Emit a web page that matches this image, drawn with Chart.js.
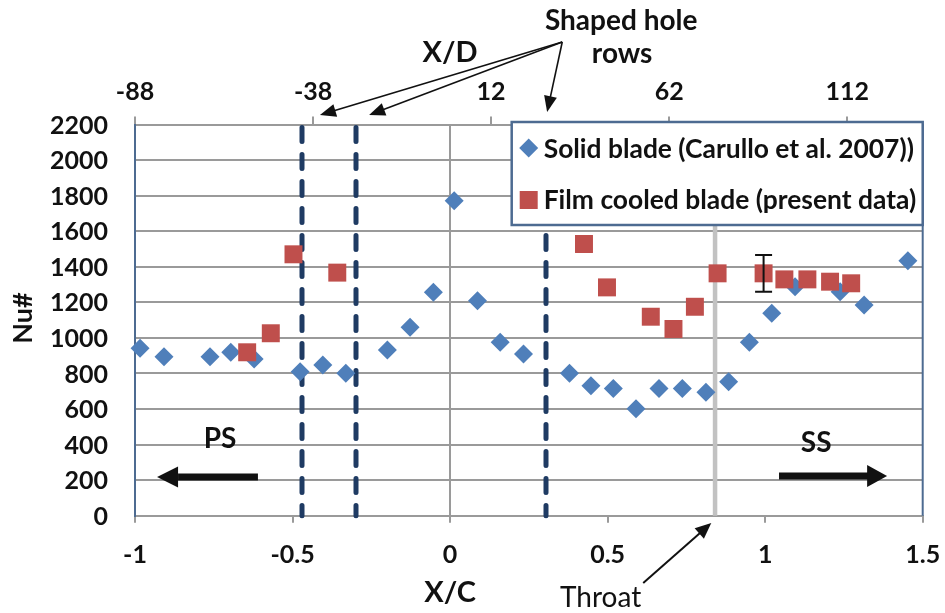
<!DOCTYPE html>
<html>
<head>
<meta charset="utf-8">
<script src="https://cdn.jsdelivr.net/npm/chart.js@4.4.1/dist/chart.umd.min.js"></script>
<style>
  html, body { margin: 0; padding: 0; background: #ffffff; }
  #wrap { width: 945px; height: 613px; position: relative; }
</style>
</head>
<body>
<div id="wrap"><canvas id="nuChart" width="945" height="613"></canvas></div>
<script>
// ---- data: surface position X/C and Nusselt number ----
const solidXC = [-0.984, -0.908, -0.762, -0.696, -0.622, -0.476, -0.404, -0.331, -0.199, -0.127,
                 -0.053, 0.013, 0.087, 0.159, 0.233, 0.379, 0.447, 0.518, 0.590, 0.663,
                 0.737, 0.812, 0.884, 0.950, 1.021, 1.095, 1.238, 1.314, 1.453];
const solidNu = [941, 894, 894, 919, 881, 810, 847, 801, 932, 1060,
                 1256, 1771, 1209, 975, 909, 801, 731, 716, 602, 716,
                 716, 694, 754, 975, 1138, 1288, 1260, 1185, 1434];

const filmXC  = [-0.644, -0.569, -0.497, -0.358, 0.425, 0.498, 0.637, 0.709, 0.777, 0.849,
                 0.995, 1.061, 1.134, 1.206, 1.273];
const filmNu  = [919, 1026, 1470, 1367, 1528, 1284, 1119, 1050, 1175, 1363,
                 1363, 1329, 1329, 1316, 1307];
// uncertainty (+/-) shown on one representative point
const filmErr = [null, null, null, null, null, null, null, null, null, null,
                 103, null, null, null, null];

const seriesNames = ['Solid blade (Carullo et al. 2007))', 'Film cooled blade (present data)'];

// shaped hole row locations and throat location, in X/C
const holeRowXC = [-0.471, -0.298, 0.305];
const throatXC = 0.841;

// axis ranges and tick values
const xcRange = [-1, 1.5];
const nuRange = [0, 2200];
const xdTicks = [-88, -38, 12, 62, 112];
const xdRange = [-88, 133.2];

// ---- styling ----
const FONT = 'Lato';
const INK = '#111111';
const GRID = '#9a9a9a';
const FRAME = '#4d6b91';
const BLUE = '#4f7fba';
const RED = '#bf4f4c';

function arrowHead(ctx, x0, y0, x1, y1, len, half) {
  const a = Math.atan2(y1 - y0, x1 - x0);
  const bx = x1 - len * Math.cos(a), by = y1 - len * Math.sin(a);
  ctx.beginPath();
  ctx.moveTo(x1, y1);
  ctx.lineTo(bx + half * Math.sin(a), by - half * Math.cos(a));
  ctx.lineTo(bx - half * Math.sin(a), by + half * Math.cos(a));
  ctx.closePath();
  ctx.fill();
}

function lineArrow(ctx, x0, y0, x1, y1, width, len, half) {
  const a = Math.atan2(y1 - y0, x1 - x0);
  ctx.lineWidth = width;
  ctx.beginPath();
  ctx.moveTo(x0, y0);
  ctx.lineTo(x1 - len * 0.7 * Math.cos(a), y1 - len * 0.7 * Math.sin(a));
  ctx.stroke();
  arrowHead(ctx, x0, y0, x1, y1, len, half);
}

function blockArrow(ctx, xTail, xTip, y, shaft, headLen, headHalf) {
  const dir = Math.sign(xTip - xTail);
  const xBack = xTip - dir * headLen;
  ctx.fillRect(Math.min(xTail, xBack), y - shaft / 2, Math.abs(xBack - xTail) + 1, shaft);
  ctx.beginPath();
  ctx.moveTo(xTip, y);
  ctx.lineTo(xBack, y - headHalf);
  ctx.lineTo(xBack, y + headHalf);
  ctx.closePath();
  ctx.fill();
}

// annotation anchors, in axis units (X/C, Nu#)
const notes = {
  holeArrowFrom: [0.356, 2664],
  holeArrowTips: [[-0.413, 2253], [-0.257, 2253], [0.308, 2270]],
  throatFrom: [0.613, -378], throatTip: [0.829, -41],
  psTail: [-0.613, 217], psTip: [-0.930, 217],
  ssTail: [1.044, 222], ssTip: [1.387, 222],
  shapedLine1: [0.543, 2731], shapedLine2: [0.546, 2544],
  xdTitle: [0.0, 2553], xcTitle: [0.0, -485],
  throatText: [0.349, -513],
  psText: [-0.730, 381], ssText: [1.162, 361]
};

const overlay = {
  id: 'overlay',
  beforeDatasetsDraw(chart) {
    const { ctx, chartArea: { top, bottom }, scales: { x } } = chart;
    ctx.save();
    // throat marker
    const tx = x.getPixelForValue(throatXC);
    ctx.strokeStyle = '#c2c2c2';
    ctx.lineWidth = 4.5;
    ctx.beginPath(); ctx.moveTo(tx, top); ctx.lineTo(tx, bottom); ctx.stroke();
    // shaped hole rows
    ctx.strokeStyle = '#1f3b63';
    ctx.lineWidth = 5;
    ctx.lineCap = 'round';
    ctx.setLineDash([14, 13]);
    holeRowXC.forEach(v => {
      const px = Math.round(x.getPixelForValue(v));
      ctx.beginPath(); ctx.moveTo(px, top + 3); ctx.lineTo(px, bottom); ctx.stroke();
    });
    ctx.restore();
  },
  afterDatasetsDraw(chart) {
    const { ctx, chartArea: { top, bottom, right }, scales: { x, y } } = chart;
    ctx.save();

    // right frame edge
    ctx.strokeStyle = FRAME;
    ctx.lineWidth = 2;
    ctx.beginPath(); ctx.moveTo(right, top); ctx.lineTo(right, bottom); ctx.stroke();

    // error bar
    ctx.strokeStyle = INK;
    ctx.lineWidth = 2;
    filmErr.forEach((e, i) => {
      if (e == null) return;
      const cx = x.getPixelForValue(filmXC[i]);
      const y0 = y.getPixelForValue(filmNu[i] - e);
      const y1 = y.getPixelForValue(filmNu[i] + e);
      ctx.beginPath();
      ctx.moveTo(cx, y0); ctx.lineTo(cx, y1);
      ctx.moveTo(cx - 8.5, y0); ctx.lineTo(cx + 8.5, y0);
      ctx.moveTo(cx - 8.5, y1); ctx.lineTo(cx + 8.5, y1);
      ctx.stroke();
    });

    // legend box
    const lw = 411, lh = 103;
    const lx = right - lw, ly = top - 2.5;
    ctx.fillStyle = '#ffffff';
    ctx.fillRect(lx, ly, lw, lh);
    ctx.strokeStyle = FRAME;
    ctx.lineWidth = 2.5;
    ctx.strokeRect(lx, ly, lw, lh);
    // legend markers
    const mx = lx + 17;
    ctx.fillStyle = BLUE;
    ctx.beginPath();
    ctx.moveTo(mx - 9.5, ly + 26); ctx.lineTo(mx, ly + 16.5);
    ctx.lineTo(mx + 9.5, ly + 26); ctx.lineTo(mx, ly + 35.5);
    ctx.closePath(); ctx.fill();
    ctx.fillStyle = RED;
    ctx.fillRect(mx - 9, ly + 69, 18, 18);
    // legend labels
    ctx.fillStyle = INK;
    ctx.font = `bold 26.4px ${FONT}`;
    ctx.textAlign = 'left';
    ctx.textBaseline = 'alphabetic';
    ctx.fillText(seriesNames[0], lx + 32, ly + 35.5);
    ctx.fillText(seriesNames[1], lx + 32, ly + 87);
    ctx.restore();
  },
  afterDraw(chart) {
    const { ctx, chartArea: { top, bottom }, scales: { x, y } } = chart;
    const P = ([a, b]) => [x.getPixelForValue(a), y.getPixelForValue(b)];
    ctx.save();
    ctx.fillStyle = INK;
    ctx.strokeStyle = INK;

    // arrows to the shaped hole rows
    const [fx, fy] = P(notes.holeArrowFrom);
    notes.holeArrowTips.forEach(t => {
      const [tx, ty] = P(t);
      lineArrow(ctx, fx, fy, tx, ty, 1.6, 16, 6.5);
    });
    // throat arrow
    const [ax, ay] = P(notes.throatFrom);
    const [bx, by] = P(notes.throatTip);
    lineArrow(ctx, ax, ay, bx, by, 2, 16, 7);
    // pressure side / suction side arrows
    const [psA, psY] = P(notes.psTail), [psB] = P(notes.psTip);
    blockArrow(ctx, psA, psB, Math.round(psY), 7, 21, 10.5);
    const [ssA, ssY] = P(notes.ssTail), [ssB] = P(notes.ssTip);
    blockArrow(ctx, ssA, ssB, Math.round(ssY), 7, 20, 11);

    // texts
    ctx.textBaseline = 'alphabetic';
    ctx.textAlign = 'center';
    ctx.font = `bold 28px ${FONT}`;
    let p = P(notes.shapedLine1); ctx.fillText('Shaped hole', p[0], p[1]);
    p = P(notes.shapedLine2); ctx.fillText('rows', p[0], p[1]);
    ctx.font = `bold 29px ${FONT}`;
    p = P(notes.xdTitle); ctx.fillText('X/D', p[0], p[1]);
    p = P(notes.xcTitle); ctx.fillText('X/C', p[0], p[1]);
    ctx.font = `bold 28px ${FONT}`;
    p = P(notes.psText); ctx.fillText('PS', p[0], p[1]);
    p = P(notes.ssText); ctx.fillText('SS', p[0], p[1]);
    ctx.textAlign = 'left';
    ctx.font = `28px ${FONT}`;
    p = P(notes.throatText); ctx.fillText('Throat', p[0], p[1]);

    // y-axis title
    ctx.translate(23, (top + bottom) / 2 - 2);
    ctx.rotate(-Math.PI / 2);
    ctx.textAlign = 'center';
    ctx.textBaseline = 'middle';
    ctx.font = `bold 27px ${FONT}`;
    ctx.fillText('Nu#', 0, 0);
    ctx.restore();
  }
};

const tickFont = { family: FONT, size: 25, weight: 'bold' };

// fixed axis band sizes; edge labels are allowed to overhang the margins
function fixBand(size, horizontal) {
  return s => {
    if (horizontal) { s.height = size; s.paddingLeft = 0; s.paddingRight = 0; }
    else { s.width = size; s.paddingTop = 0; s.paddingBottom = 0; }
  };
}

new Chart(document.getElementById('nuChart'), {
  type: 'scatter',
  data: {
    datasets: [
      {
        label: seriesNames[0],
        data: solidXC.map((v, i) => ({ x: v, y: solidNu[i] })),
        pointStyle: 'rectRot',
        pointRadius: 9.5,
        pointBorderWidth: 0,
        backgroundColor: BLUE,
        borderColor: BLUE,
        order: 2,
        clip: false
      },
      {
        label: seriesNames[1],
        data: filmXC.map((v, i) => ({ x: v, y: filmNu[i] })),
        pointStyle: 'rect',
        pointRadius: 12.7,
        pointBorderWidth: 0,
        backgroundColor: RED,
        borderColor: RED,
        order: 1,
        clip: false
      }
    ]
  },
  options: {
    responsive: false,
    devicePixelRatio: 1,
    animation: false,
    events: [],
    layout: { padding: { left: 0, right: 22.3, top: 0, bottom: 0 } },
    plugins: { legend: { display: false }, tooltip: { enabled: false } },
    scales: {
      x: {
        type: 'linear',
        position: 'bottom',
        min: xcRange[0], max: xcRange[1],
        afterFit: fixBand(97.3, true),
        ticks: {
          stepSize: 0.5, autoSkip: false, padding: 17,
          color: INK, font: tickFont,
          callback: v => String(v)
        },
        grid: {
          color: c => (c.tick && c.tick.value === 0 ? GRID : 'rgba(0,0,0,0)'),
          lineWidth: 2,
          tickColor: GRID,
          tickLength: 7
        },
        border: { display: true, color: GRID, width: 2 }
      },
      x2: {
        type: 'linear',
        axis: 'x',
        position: 'top',
        min: xdRange[0], max: xdRange[1],
        afterFit: fixBand(124.5, true),
        afterBuildTicks: s => { s.ticks = xdTicks.map(v => ({ value: v })); },
        ticks: {
          autoSkip: false, padding: 10,
          color: INK, font: tickFont,
          callback: v => String(v)
        },
        grid: { drawOnChartArea: false, color: GRID, tickColor: GRID, tickLength: 8, lineWidth: 2 },
        border: { display: true, color: GRID, width: 2 }
      },
      y: {
        type: 'linear',
        position: 'left',
        min: nuRange[0], max: nuRange[1],
        afterFit: fixBand(135, false),
        ticks: {
          stepSize: 200, autoSkip: false, padding: 27, labelOffset: 1,
          color: INK, font: tickFont,
          callback: v => String(v)
        },
        grid: { color: GRID, lineWidth: 2, drawTicks: false },
        border: { display: true, color: FRAME, width: 2 }
      }
    }
  },
  plugins: [overlay]
});
</script>
</body>
</html>
